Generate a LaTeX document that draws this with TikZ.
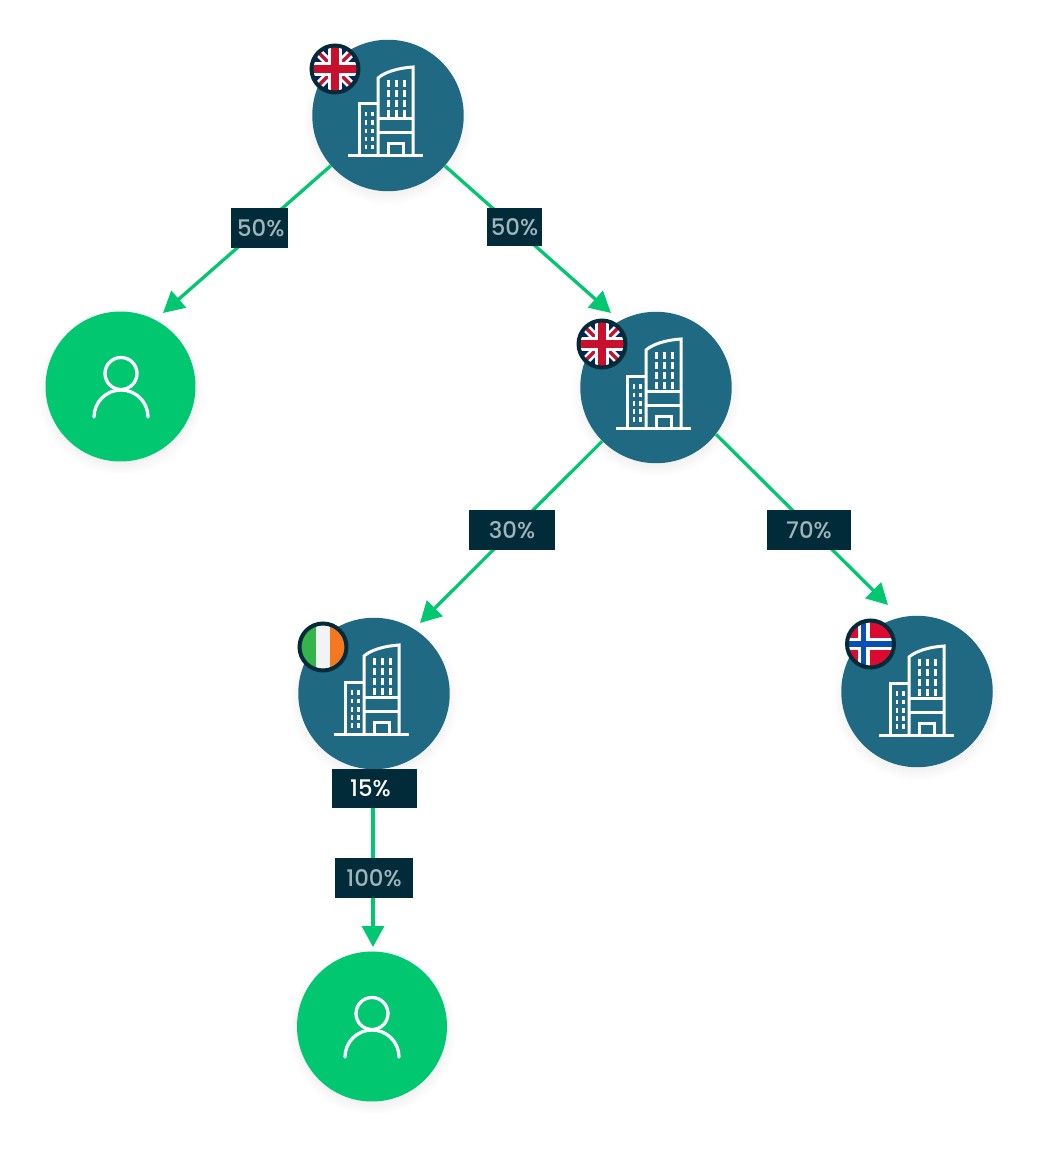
\documentclass[tikz,border=0pt]{standalone}
\usepackage{xcolor}
\usepackage{fontspec}
\setmainfont{Poppins Medium}
\usetikzlibrary{positioning,arrows.meta,shadows}
\definecolor{tealfill}{HTML}{1F6983}
\definecolor{greenfill}{HTML}{00C770}
\definecolor{darkfill}{HTML}{022B3A}
\definecolor{labeltext}{HTML}{9FB4BB}
\definecolor{ukblue}{HTML}{012169}
\definecolor{ukred}{HTML}{C8102E}
\definecolor{iegreen}{HTML}{34B44A}
\definecolor{iewhite}{HTML}{F2F3F5}
\definecolor{ieorange}{HTML}{F47820}
\definecolor{nored}{HTML}{DC0A31}
\definecolor{noblue}{HTML}{0A4FB5}
\tikzset{
    party/.style={circle, inner sep=0pt,
        circular drop shadow={shadow xshift=0cm, shadow yshift=-0.08cm, shadow scale=1.12, opacity=0.1}},
    company/.style={party, minimum size=3.03cm, fill=tealfill},
    owner/.style={party, minimum size=3cm, fill=greenfill},
    link/.style={draw=greenfill, line width=0.066cm, -{Triangle[length=0.42cm,width=0.44cm]}},
    share/.style={fill=darkfill, text=labeltext, inner sep=0pt, minimum height=0.8cm, font=\fontsize{13}{13}\selectfont},
    icon/.style={draw=white, line width=0.06cm},
    flagring/.style={draw=darkfill, line width=0.08cm},
    pics/tower/.style={code={
        \draw[icon] (-40,41) -- (35,41);
        \draw[icon] (-29,41) -- (-29,-11) -- (-10,-11);
        \draw[icon] (-10,41) -- (-10,-37) .. controls (-3,-43) and (10,-47) .. (25,-48) -- (25,41);
        \draw[icon] (-10,4) -- (25,4);
        \draw[icon] (-10,18) -- (25,18);
        \draw[icon] (0,41) -- (0,29) -- (15,29) -- (15,41);
        \foreach \wx in {0.3,8.3,16.3}
            \foreach \wy in {-35,-25,-15,-5}
                \draw[draw=white, line width=0.055cm] (\wx,\wy) -- (\wx,\wy+7);
        \foreach \wx in {-22,-15.7}
            \foreach \wy in {-3,5.5,14,22,30}
                \draw[draw=white, line width=0.05cm] (\wx,\wy) -- (\wx,\wy+4.5);
    }},
    pics/person/.style={code={
        \draw[icon, line width=0.066cm] (0,-12.5) circle [radius=16];
        \draw[icon, line width=0.066cm, line cap=round] (-27,31) arc [start angle=180, end angle=360, radius=27];
    }},
    pics/ukflag/.style={code={
        \begin{scope}
            \clip (0,0) circle [radius=23.5];
            \fill[ukblue] (-26,-26) rectangle (26,26);
            \draw[white, line width=0.17cm] (-26,-26) -- (26,26);
            \draw[white, line width=0.17cm] (-26,26) -- (26,-26);
            \draw[ukred, line width=0.07cm] (-26,-26) -- (26,26);
            \draw[ukred, line width=0.07cm] (-26,26) -- (26,-26);
            \draw[white, line width=0.27cm] (-26,0) -- (26,0);
            \draw[white, line width=0.27cm] (0,-26) -- (0,26);
            \draw[ukred, line width=0.16cm] (-26,0) -- (26,0);
            \draw[ukred, line width=0.16cm] (0,-26) -- (0,26);
        \end{scope}
        \draw[flagring] (0,0) circle [radius=23.5];
    }},
    pics/ieflag/.style={code={
        \begin{scope}
            \clip (0,0) circle [radius=23.5];
            \fill[iegreen] (-26,-26) rectangle (-7,26);
            \fill[iewhite] (-7,-26) rectangle (7,26);
            \fill[ieorange] (7,-26) rectangle (26,26);
        \end{scope}
        \draw[flagring] (0,0) circle [radius=23.5];
    }},
    pics/noflag/.style={code={
        \begin{scope}
            \clip (0,0) circle [radius=23.5];
            \fill[nored] (-26,-26) rectangle (26,26);
            \draw[white, line width=0.24cm] (-26,0) -- (26,0);
            \draw[white, line width=0.24cm] (-7,-26) -- (-7,26);
            \draw[noblue, line width=0.11cm] (-26,0) -- (26,0);
            \draw[noblue, line width=0.11cm] (-7,-26) -- (-7,26);
        \end{scope}
        \draw[flagring] (0,0) circle [radius=23.5];
    }}
}

\begin{document}
\begin{tikzpicture}[x=0.02cm, y=-0.02cm]
    \useasboundingbox (0,0) rectangle (1039,1155);

    \node[company] (parent) at (388,115.5) {};
    \node[owner] (ownerleft) at (120.5,386.5) {};
    \node[company] (holding) at (656,387.5) {};
    \node[company] (irish) at (374,693.5) {};
    \node[company] (norway) at (917,691.5) {};
    \node[owner] (ownerlow) at (372,1026.5) {};

    \coordinate (tipleft) at (163,313);
    \coordinate (tipholding) at (611,313);
    \coordinate (tipirish) at (420,623);
    \coordinate (tipnorway) at (888,605);
    \coordinate (tiplow) at (373,947);

    \draw[link] (parent) -- (tipleft);
    \draw[link] (parent) -- (tipholding);
    \draw[link] (holding) -- (tipirish);
    \draw[link] (holding.-38.5) -- (tipnorway);
    \draw[link] (irish.south -| tiplow) -- (tiplow);

    \pic at (388,115) {tower};
    \pic at (656,387) {tower};
    \pic at (374,693) {tower};
    \pic at (919,694) {tower};
    \pic at (121,386) {person};
    \pic at (372,1026) {person};

    \pic at (335,69) {ukflag};
    \pic at (602,344) {ukflag};
    \pic at (323,647) {ieflag};
    \pic at (870.5,644) {noflag};

    % percentages
    \node[share, minimum width=1.14cm] (shareleft) at (259.5,228) {\hspace{0.05cm}50\%};
    \node[share, minimum width=1.1cm, minimum height=0.76cm] (shareright) at (514.5,227) {50\%};
    \node[share, minimum width=1.72cm] (sharethirty) at (512,530) {30\%};
    \node[share, minimum width=1.68cm] (sharenorway) at (809,530) {70\%};
    \node[share, minimum width=1.7cm, minimum height=0.78cm, text=white] (sharelow) at (374.5,788.5) {15\%\kern0.16cm};
    \node[share, minimum width=1.56cm] (shareowner) at (374,878) {100\%};
\end{tikzpicture}
\end{document}
